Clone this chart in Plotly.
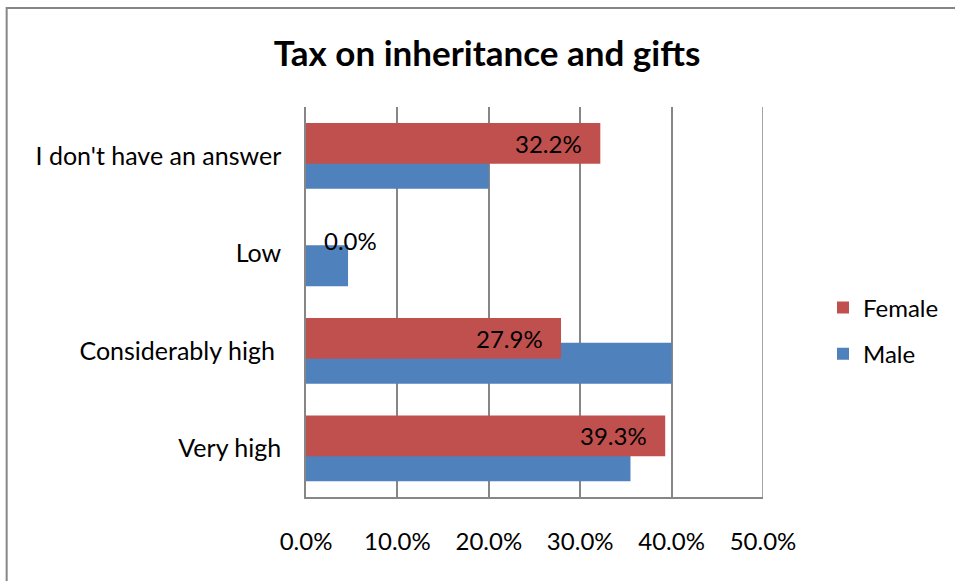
import plotly.graph_objects as go

# Survey answers, listed bottom-to-top as they appear on the axis
categories = ["Very high", "Considerably high\u00a0", "Low", "I don't have an answer"]
female = [0.393, 0.279, 0.000, 0.322]
male = [0.355, 0.400, 0.046, 0.200]
x_ticks = [0.0, 0.1, 0.2, 0.3, 0.4, 0.5]

FEMALE_COLOR = "#C0504D"
MALE_COLOR = "#4F81BD"
GRID = "#868686"
FONT = "Lato, 'Noto Sans', sans-serif"

BAR_W = 0.42          # bar thickness in category units
FEMALE_OFF = -0.083   # female sits above and overlaps the male bar
MALE_OFF = -0.338

fig = go.Figure()
fig.add_trace(go.Bar(
    y=list(range(len(categories))), x=male, orientation="h", name="Male",
    marker=dict(color=MALE_COLOR, line=dict(width=0)),
    width=BAR_W, offset=MALE_OFF, legendgroup="m", legendrank=2,
))
fig.add_trace(go.Bar(
    y=list(range(len(categories))), x=female, orientation="h", name="Female",
    marker=dict(color=FEMALE_COLOR, line=dict(width=0)),
    width=BAR_W, offset=FEMALE_OFF, legendgroup="f", legendrank=1,
))

# Value labels on the female bars, inside the bar end
for i, v in enumerate(female):
    fig.add_annotation(
        x=v, y=i + FEMALE_OFF + BAR_W / 2, xref="x", yref="y",
        text=f"{v * 100:.1f}%", showarrow=False,
        xanchor="left" if v == 0 else "right",
        xshift=16 if v == 0 else -16,
        yanchor="middle",
        font=dict(family=FONT, size=24, color="black"),
    )

# Right border of the plot area at the last gridline
fig.add_shape(
    type="line", xref="x", yref="paper",
    x0=x_ticks[-1], x1=x_ticks[-1], y0=0, y1=1,
    line=dict(color=GRID, width=1.5), layer="below",
)

# Chart frame
fig.add_shape(
    type="rect", xref="paper", yref="paper",
    x0=(6 - 306) / 458, x1=(962 - 306) / 458,
    y0=(497 - 590) / 390, y1=(497 - 8) / 390,
    line=dict(color=GRID, width=2), fillcolor="rgba(0,0,0,0)", layer="below",
)

fig.update_layout(
    width=955, height=581,
    margin=dict(l=306, r=191, t=107, b=84),
    paper_bgcolor="white", plot_bgcolor="white",
    barmode="overlay",
    title=dict(
        text="<b>Tax on inheritance and gifts</b>",
        x=487 / 955, xref="container", xanchor="center",
        y=1 - 54 / 581, yref="container", yanchor="middle",
        font=dict(family=FONT, size=35, color="black", weight=900),
    ),
    font=dict(family=FONT, size=24, color="black"),
    legend=dict(
        x=(823 - 306) / 458, y=(497 - 331) / 390, xref="paper", yref="paper",
        xanchor="left", yanchor="middle",
        traceorder="grouped", tracegroupgap=12,
        font=dict(family=FONT, size=24, color="black"),
        bgcolor="rgba(0,0,0,0)",
    ),
    showlegend=True,
)

fig.update_xaxes(
    range=[0, 0.5], tickvals=x_ticks, tickformat=".1%",
    showgrid=True, gridcolor=GRID, gridwidth=1.5,
    showline=True, linecolor=GRID, linewidth=1.5,
    zeroline=False, ticks="", ticklabelstandoff=22,
    tickfont=dict(family=FONT, size=24, color="black"),
    fixedrange=True,
)
fig.update_yaxes(
    range=[-0.5, len(categories) - 0.5],
    tickvals=list(range(len(categories))), ticktext=categories,
    showgrid=False, zeroline=False,
    showline=True, linecolor=GRID, linewidth=1.5,
    ticks="", ticklabelstandoff=18, automargin=False,
    tickfont=dict(family=FONT, size=25, color="black"),
    fixedrange=True,
)

fig.write_html("out.html")
